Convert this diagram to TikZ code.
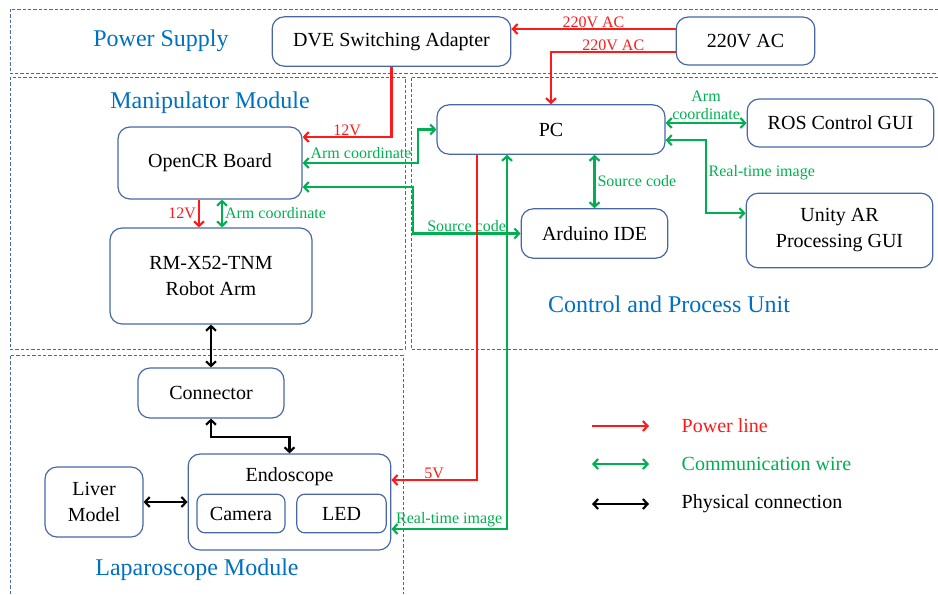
\documentclass[tikz,border=0pt]{standalone}
\usepackage{fontspec}
\setmainfont{Liberation Serif}
\usetikzlibrary{positioning,arrows,arrows.meta}
\definecolor{pwrred}{RGB}{255,25,25}
\definecolor{comgreen}{RGB}{0,176,80}
\definecolor{ttlblue}{RGB}{0,112,192}
\definecolor{boxblue}{RGB}{72,104,165}
\tikzset{
box/.style={draw=boxblue, line width=0.9pt, rounded corners=9pt, align=center,
    font=\fontsize{15}{19.5}\selectfont, inner sep=2pt},
region/.style={draw=boxblue, line width=0.6pt, dash pattern=on 2.5pt off 1.5pt},
pwr/.style={pwrred, line width=1.6pt},
com/.style={comgreen, line width=1.6pt},
phy/.style={black, line width=1.6pt},
lbl/.style={font=\fontsize{12}{13.5}\selectfont, inner sep=1.5pt, align=center},
ttl/.style={text=ttlblue, font=\fontsize{18}{20}\selectfont},
lgd/.style={anchor=west, font=\fontsize{15}{17}\selectfont}
}

\begin{document}
\begin{tikzpicture}[>={Straight Barb[length=3.5pt,width=7.5pt]},x=0.75pt,y=-0.75pt]
\useasboundingbox (0,0) rectangle (938,594);

\draw[region] (938,9) -- (10,9) -- (10,73.5) -- (938,73.5);
\draw[region] (10,77) rectangle (405,349);
\draw[region] (938,77) -- (411,77) -- (411,349) -- (938,349);
\draw[region] (10,594) -- (10,355) -- (403,355) -- (403,594);

\node[ttl] (tpow) at (161,41) {Power Supply};
\node[ttl] (tman) at (210,103) {Manipulator Module};
\node[ttl] (tctl) at (669,304) {Control and Process Unit};
\node[ttl] (tlap) at (197,570) {Laparoscope Module};

\node[box, minimum width=179pt, minimum height=37pt] (dve) at (391.5,41.5) {DVE Switching Adapter};
\node[box, minimum width=104pt, minimum height=36pt] (ac) at (745.5,41) {220V AC};
\node[box, minimum width=171pt, minimum height=37pt] (pc) at (551,129.5) {PC};
\node[box, minimum width=140pt, minimum height=36pt] (ros) at (840.5,123) {ROS Control GUI};
\node[box, minimum width=138pt, minimum height=54pt] (opencr) at (210,163) {OpenCR Board};
\node[box, minimum width=151.5pt, minimum height=72pt] (arm) at (211,276) {RM-X52-TNM\\Robot Arm};
\node[box, minimum width=110pt, minimum height=37pt] (ide) at (594.5,233.5) {Arduino IDE};
\node[box, minimum width=140pt, minimum height=56pt] (unity) at (839.5,230.5) {Unity AR\\Processing GUI};
\node[box, minimum width=109.5pt, minimum height=37.5pt] (conn) at (211,393) {Connector};
\node[box, minimum width=152pt, minimum height=72pt] (endo) at (289.5,502) {};
\node[font=\fontsize{15}{17}\selectfont] (endolbl) at (289.5,477) {Endoscope};
\node[box, rounded corners=6pt, minimum width=66pt, minimum height=29pt] (cam) at (241,513.5) {Camera};
\node[box, rounded corners=6pt, minimum width=67pt, minimum height=29pt] (led) at (341.5,513.5) {LED};
\node[box, minimum width=73.5pt, minimum height=52.5pt] (liver) at (94,502) {Liver\\Model};

\draw[pwr,->] ([yshift=9pt]ac.west) -- ([yshift=9pt]ac.west -| dve.east)
    node[midway, above=-1pt, lbl] {220V AC};
\draw[pwr,->] ([yshift=-8.25pt]ac.west) -| (pc.north)
    node[pos=0.25, above=-1pt, lbl] {220V AC};
\draw[pwr,->] (dve.south) |- ([yshift=19.5pt]opencr.east)
    node[pos=0.75, above=-1pt, lbl] {12V};
\draw[pwr,->] ([xshift=-8.25pt]opencr.south) -- ([xshift=-8.25pt]opencr.south |- arm.north)
    node[midway, left, lbl] {12V};
\draw[com,<->] ([xshift=9pt]opencr.south) -- ([xshift=9pt]opencr.south |- arm.north)
    node[midway, right, lbl] {Arm coordinate};
\draw[com,<->] (opencr.east) -- ++(115,0) |- (pc.west);
\node[lbl, comgreen] (lblarm) at (361,153) {Arm coordinate};
\draw[com,<->] ([yshift=-18pt]opencr.east) -- ++(110,0) |- (ide.west)
    node[pos=0.75, above=-1pt, lbl] {Source code};
\draw[com,<->] (ide.north) -- (ide.north |- pc.south)
    node[midway, right, lbl] {Source code};
\draw[com,<->] (ros.west) -- (ros.west -| pc.east)
    node[midway, above, lbl] {Arm\\coordinate};
\draw[com,<->] ([yshift=-8pt]pc.east) -- ++(40,0) |- ([yshift=13pt]unity.west)
    node[pos=0.225, right, lbl] {Real-time image};
\draw[pwr,->] ([xshift=-55.5pt]pc.south) |- ([yshift=16.5pt]endo.east)
    node[pos=0.75, above=-1pt, lbl] {5V};
\draw[com,<->] ([xshift=-33pt]pc.south) |- ([yshift=-20.25pt]endo.east)
    node[pos=0.75, above=-1pt, lbl] {Real-time image};

\draw[phy,<->] (arm.south) -- (conn.north);
\draw[phy,<->] (conn.south) -- ++(0,18) -| (endo.north);
\draw[phy,<->] (liver.east) -- (endo.west);

\node[lgd, text=pwrred] (lpow) at (677,426) {Power line};
\node[lgd, text=comgreen] (lcom) at (677,464) {Communication wire};
\node[lgd] (lphy) at (677,504) {Physical connection};
\draw[pwr,->] ([xshift=-63.75pt]lpow.west) -- ([xshift=-21pt]lpow.west);
\draw[com,<->] ([xshift=-63.75pt]lcom.west) -- ([xshift=-21pt]lcom.west);
\draw[phy,<->] ([xshift=-63.75pt]lphy.west) -- ([xshift=-21pt]lphy.west);
\end{tikzpicture}
\end{document}
